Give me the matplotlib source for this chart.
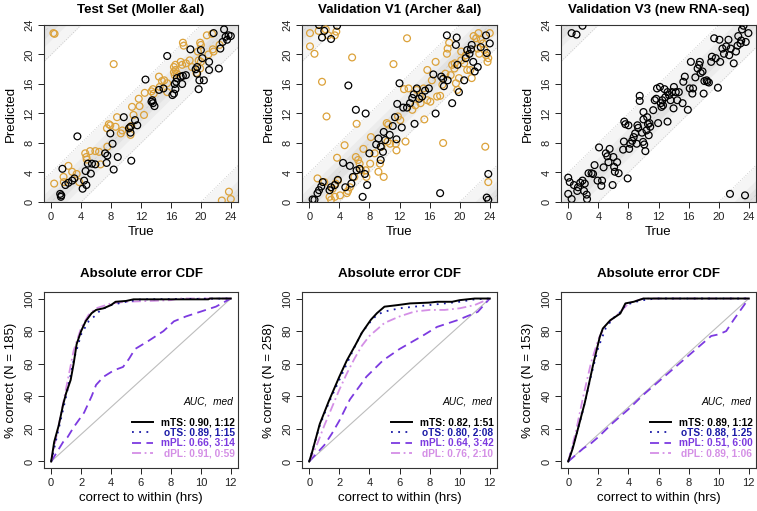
import matplotlib
matplotlib.use("Agg")
import matplotlib.pyplot as plt
import numpy as np

plt.rcParams['font.family'] = ['Liberation Sans', 'DejaVu Sans']

# ---- top row: predicted vs true time (hours) ----
titles_top = ["Test Set (Moller &al)", "Validation V1 (Archer &al)", "Validation V3 (new RNA-seq)"]

moller_true_k = [1.3, 1.35, 1.2, 1.5, 1.9, 2.3, 2.8, 3.1, 3.5, 4.2, 4.4, 4.6, 4.7, 4.9, 5.3, 5.45, 5.9,
                 7.2, 7.4, 7.5, 7.9, 8.2, 8.35, 8.9, 9.7, 10.6, 10.6, 10.7, 11.2, 11.5, 12.6, 13.5, 13.6,
                 13.8, 14.4, 15.0, 15.5, 16.2, 16.4, 16.6, 16.7, 16.8, 17.3, 17.5, 18.0, 18.6, 19.5, 19.5,
                 19.7, 19.8, 20.0, 20.2, 20.4, 21.1, 21.1, 21.7, 22.4, 22.6, 22.9, 23.1, 23.3, 23.7, 24.0,
                 23.5, 10.4, 13.4, 16.5, 17.6, 19.3]
moller_pred_k = [0.7, 0.9, 1.1, 4.5, 2.3, 2.6, 2.9, 3.2, 8.9, 1.8, 2.9, 4.2, 2.3, 5.2, 3.85, 5.2, 5.1,
                 6.6, 5.3, 6.3, 9.3, 7.9, 4.4, 6.1, 11.5, 10.2, 9.4, 5.6, 11.1, 10.4, 16.6, 13.8, 13.4,
                 13.0, 15.2, 15.4, 19.8, 14.5, 14.7, 15.3, 16.3, 16.8, 17.0, 16.0, 17.2, 20.7, 18.3, 17.4,
                 15.3, 16.5, 20.6, 19.5, 16.5, 17.9, 19.0, 22.9, 18.1, 20.8, 21.7, 23.4, 22.4, 22.6, 22.5,
                 22.0, 10.0, 13.6, 16.0, 17.1, 18.0]
moller_true_o = [0.3, 0.45, 8.35, 17.6, 17.7, 19.9, 20.0, 20.8, 21.5, 21.6, 21.7, 22.5, 22.8, 23.75, 24.0,
                 0.4, 2.3, 1.65, 1.7, 2.8, 3.4, 3.75, 4.55, 4.7, 4.75, 5.2, 5.9, 6.4, 6.6, 7.5, 7.45, 7.7,
                 7.9, 8.6, 8.8, 9.3, 9.5, 10.6, 10.7, 10.8, 11.0, 11.8, 11.7, 12.4, 12.5, 13.6, 13.7, 14.4,
                 14.5, 14.8, 15.1, 15.5, 15.5, 16.4, 16.6, 16.5, 16.8, 17.3, 17.5, 18.0, 18.5, 18.8, 19.7,
                 19.9, 20.0, 10.5, 13.4, 16.4, 16.6, 19.4, 19.6, 21.0]
moller_pred_o = [22.9, 22.8, 18.7, 21.6, 21.2, 21.6, 21.3, 22.6, 22.8, 20.7, 20.4, 21.3, 0.2, 1.4, 0.4,
                 2.5, 4.9, 3.4, 2.7, 4.1, 3.8, 2.7, 6.6, 6.1, 5.75, 6.9, 6.9, 6.8, 5.1, 7.5, 10.0, 10.55,
                 10.4, 10.2, 11.5, 9.3, 9.7, 9.1, 10.3, 12.9, 11.8, 13.0, 14.0, 11.8, 14.8, 15.3, 14.7, 17.0,
                 15.6, 16.4, 16.5, 16.1, 14.9, 18.3, 17.9, 17.2, 17.4, 19.0, 18.6, 18.8, 19.2, 18.3, 19.2,
                 18.1, 19.0, 10.1, 15.0, 17.6, 18.6, 17.5, 20.4, 20.0]

archer_true_k = [1.7, 2.0, 2.9, 3.7, 1.3, 5.2, 6.2, 7.5, 7.1, 0.45, 0.7, 1.1, 1.3, 1.6, 1.8, 2.7, 2.9,
                 3.4, 3.8, 4.5, 4.8, 5.4, 5.6, 5.8, 6.3, 6.7, 7.4, 7.7, 8.0, 8.9, 9.2, 9.5, 9.5, 9.8, 9.9,
                 10.1, 10.7, 11.1, 11.4, 11.7, 12.0, 12.3, 11.6, 12.5, 13.0, 13.4, 13.7, 13.9, 14.0, 14.3,
                 14.6, 15.0, 15.4, 15.9, 16.5, 16.8, 17.4, 17.55, 17.8, 17.9, 18.3, 18.4, 19.0, 19.5, 19.6,
                 19.7, 19.9, 20.6, 20.8, 21.0, 21.3, 21.5, 21.6, 21.8, 22.0, 22.4, 22.8, 23.5, 23.6, 24.0,
                 23.8, 23.6, 23.8]
archer_pred_k = [22.3, 23.2, 22.1, 23.9, 24.0, 15.8, 12.5, 12.0, 0.7, 0.35, 0.3, 1.2, 1.6, 2.1, 2.7, 1.6,
                 2.0, 2.3, 3.0, 5.3, 2.0, 4.9, 2.5, 3.4, 4.3, 4.5, 3.8, 2.3, 6.6, 7.8, 8.6, 7.5, 5.7, 6.8,
                 9.5, 8.4, 9.1, 10.3, 11.5, 13.3, 16.1, 10.1, 8.5, 12.8, 12.8, 13.4, 14.1, 14.6, 10.6, 15.4,
                 14.0, 14.3, 15.1, 15.4, 17.3, 12.0, 1.2, 17.0, 16.7, 15.7, 22.6, 16.5, 13.4, 21.3, 22.3,
                 18.6, 14.9, 16.5, 19.5, 20.6, 20.1, 20.7, 21.3, 19.0, 17.7, 18.3, 21.0, 22.6, 20.2, 21.5,
                 3.8, 0.6, 0.3]
archer_true_o = [0.1, 0.1, 0.7, 1.25, 2.2, 2.5, 3.4, 3.6, 1.7, 2.3, 5.7, 6.3, 4.7, 3.7, 11.2, 13.0, 17.8,
                 23.4, 23.8, 23.7, 1.1, 2.0, 2.7, 2.9, 3.1, 3.4, 3.5, 3.8, 4.1, 5.0, 5.15, 5.4, 6.0, 6.2,
                 6.5, 6.7, 6.9, 7.2, 7.5, 7.6, 8.1, 8.2, 8.7, 9.2, 9.4, 9.6, 9.9, 10.3, 10.4, 10.5, 10.75,
                 11.5, 11.6, 11.8, 12.1, 12.8, 12.6, 13.2, 13.7, 14.1, 14.3, 14.7, 14.8, 15.2, 15.3, 15.7,
                 15.7, 16.1, 16.3, 16.8, 17.0, 17.4, 17.7, 18.1, 18.3, 18.4, 18.6, 18.8, 19.0, 19.3, 19.35,
                 19.5, 19.7, 19.9, 20.2, 20.2, 20.6, 20.8, 21.0, 21.4, 21.6, 21.85, 22.2, 22.4, 22.6, 22.8,
                 23.1, 23.3, 23.5, 23.8, 24.0, 22.5]
archer_pred_o = [22.9, 21.1, 20.1, 23.2, 23.4, 22.6, 22.6, 23.1, 16.3, 11.6, 19.6, 10.6, 7.7, 6.0, 18.7,
                 22.2, 8.0, 7.5, 2.7, 19.0, 3.2, 2.7, 0.7, 0.3, 1.8, 0.7, 2.5, 2.9, 0.9, 1.2, 1.5, 2.0, 3.4,
                 6.1, 5.7, 5.2, 4.3, 7.2, 4.3, 3.4, 5.2, 8.8, 6.6, 4.1, 5.2, 7.5, 3.4, 10.7, 8.2, 10.5, 7.9,
                 7.9, 7.0, 11.6, 11.1, 8.2, 15.3, 15.4, 12.5, 13.1, 15.2, 14.3, 13.4, 15.4, 11.2, 17.9,
                 13.8, 13.6, 16.5, 19.0, 14.3, 14.4, 15.9, 17.4, 20.1, 20.8, 21.6, 17.2, 18.6, 18.1, 18.8,
                 16.1, 15.2, 16.8, 19.2, 20.4, 18.8, 19.9, 17.9, 17.9, 16.8, 22.5, 22.2, 20.8, 20.1, 22.0,
                 21.5, 20.6, 19.9, 19.5, 22.9, 22.9]

rnaseq_true = [0.45, 1.1, 1.9, 0.0, 0.2, 0.0, 0.45, 0.75, 1.2, 1.3, 1.6, 1.9, 2.1, 2.2, 2.45, 2.5, 2.7,
               3.1, 3.3, 3.5, 3.9, 4.1, 4.4, 4.5, 4.7, 5.0, 5.2, 5.35, 5.5, 5.9, 6.0, 6.1, 6.2, 6.5, 6.7,
               7.3, 7.4, 7.45, 7.6, 7.9, 8.0, 8.1, 8.25, 8.5, 8.7, 8.9, 9.1, 9.2, 9.3, 9.5, 9.5, 9.8, 9.95,
               10.0, 10.0, 10.1, 10.25, 10.4, 10.5, 10.6, 10.7, 10.8, 10.9, 11.3, 11.5, 11.7, 11.8, 11.95,
               12.2, 12.3, 12.4, 12.5, 12.6, 12.8, 12.9, 13.2, 13.2, 13.4, 13.6, 13.8, 14.0, 14.05, 14.3,
               14.5, 14.7, 15.2, 15.3, 15.5, 15.9, 16.15, 16.3, 16.5, 16.6, 16.9, 17.2, 17.4, 17.5, 17.6,
               17.85, 18.0, 18.1, 18.4, 18.5, 18.7, 19.0, 19.1, 19.4, 19.6, 19.9, 20.1, 20.2, 20.5, 20.7,
               21.0, 21.3, 21.4, 21.6, 22.0, 22.3, 22.5, 22.6, 22.9, 23.0, 23.1, 23.3, 23.6, 23.95, 21.5,
               23.5]
rnaseq_pred = [22.9, 22.7, 23.9, 3.3, 2.7, 1.1, 0.4, 2.3, 1.5, 2.0, 2.6, 2.9, 1.5, 2.5, 1.0, 0.4, 3.9,
               3.9, 3.8, 5.0, 2.9, 7.4, 2.2, 2.9, 4.7, 6.6, 6.2, 5.4, 7.2, 2.3, 6.1, 4.75, 4.1, 5.4, 3.9,
               7.1, 8.2, 10.9, 10.55, 3.2, 10.4, 7.2, 7.9, 8.3, 8.8, 9.3, 7.9, 10.4, 10.05, 14.4, 13.7, 9.4,
               8.15, 12.2, 11.2, 7.8, 6.9, 9.7, 11.5, 10.55, 9.05, 10.7, 10.2, 12.45, 13.8, 14.0, 15.4,
               10.7, 15.6, 13.4, 12.9, 13.8, 13.1, 15.3, 14.2, 14.9, 10.9, 14.5, 13.8, 14.9, 12.7, 15.6,
               14.9, 13.8, 14.9, 13.4, 16.3, 17.0, 12.5, 15.4, 19.0, 14.7, 15.4, 16.9, 18.1, 18.6, 19.0,
               17.5, 17.7, 14.7, 16.4, 16.5, 16.3, 16.2, 19.0, 19.7, 22.2, 19.5, 15.5, 22.0, 19.0, 20.8,
               20.1, 21.1, 22.0, 19.9, 20.8, 18.8, 20.4, 21.2, 22.5, 21.5, 21.9, 23.4, 23.9, 21.7, 22.9,
               1.1, 0.9]

# ---- bottom row: absolute error CDF ----
cdf_ylabels = ["% correct (N = 185)", "% correct (N = 258)", "% correct (N = 153)"]
legend_test = ["mTS: 0.90, 1:12", "oTS: 0.89, 1:15", "mPL: 0.66, 3:14", "dPL: 0.91, 0:59"]
legend_v1 = ["mTS: 0.82, 1:51", "oTS: 0.80, 2:08", "mPL: 0.64, 3:42", "dPL: 0.76, 2:10"]
legend_v3 = ["mTS: 0.89, 1:12", "oTS: 0.88, 1:25", "mPL: 0.51, 6:00", "dPL: 0.89, 1:06"]

test_mts_x = [0, 0.2, 0.5, 0.8, 1.0, 1.3, 1.5, 1.7, 2.0, 2.3, 2.7, 3.0, 3.5, 4.0, 4.3, 5.0, 5.5, 10.5, 10.6, 12]
test_mts_y = [0, 12, 22, 35, 42, 50, 60, 72, 80, 86, 91, 93, 94, 96, 98, 98.5, 99.5, 99.5, 100, 100]
test_ots_x = [0, 0.5, 1.0, 1.5, 2.0, 2.5, 3.0, 3.3, 4.0, 5.0, 6.0, 12]
test_ots_y = [0, 20, 40, 62, 78, 86, 90, 93, 96, 98, 99.5, 100]
test_mpl_x = [0, 0.2, 0.8, 1.1, 1.5, 2.2, 2.7, 3.0, 3.5, 4.2, 4.8, 5.2, 5.6, 6.5, 7.5, 8.2, 9.0, 10.0, 11.0, 12]
test_mpl_y = [0, 3, 12, 15, 21, 30, 40, 47, 52, 56, 58, 63, 69, 74, 80, 86, 89, 92, 95, 100]
test_dpl_x = [0, 0.5, 1.0, 1.5, 2.0, 2.5, 3.0, 4.0, 5.0, 8.0, 8.5, 12]
test_dpl_y = [0, 22, 45, 68, 82, 90, 94, 97, 98, 99, 100, 100]

v1_mts_x = [0, 0.2, 0.7, 1.3, 2.0, 2.5, 3.1, 3.5, 4.1, 4.5, 5.0, 5.9, 6.7, 8.0, 8.5, 9.5, 10.0, 11.0, 12]
v1_mts_y = [0, 6, 23, 37, 52, 62, 72, 79, 87, 91, 95, 96, 97, 97.5, 98, 98, 99, 100, 100]
v1_ots_x = [0, 0.7, 1.3, 2.0, 2.5, 3.0, 3.5, 4.0, 4.5, 5.0, 6.0, 7.0, 8.0, 9.0, 10.0, 11.0, 12]
v1_ots_y = [0, 22, 36, 50, 60, 70, 79, 85, 90, 92, 94, 95, 96, 97, 98, 99.5, 100]
v1_mpl_x = [0, 0.5, 1.0, 1.5, 2.0, 2.7, 3.8, 4.9, 6.0, 7.6, 8.5, 9.85, 11.2, 12]
v1_mpl_y = [0, 5, 10, 17, 25, 38, 52, 62, 69, 77.5, 82.6, 86.7, 91.8, 100]
v1_dpl_x = [0, 0.5, 1.0, 1.5, 2.0, 2.5, 3.0, 3.5, 4.0, 4.5, 5.0, 6.0, 7.0, 8.0, 9.0, 10.0, 11.0, 12]
v1_dpl_y = [0, 10, 22, 33, 44, 54, 63, 71, 77, 81, 85, 89, 92, 93, 93, 94, 96, 100]

v3_mts_x = [0, 0.3, 0.56, 1.1, 1.34, 1.67, 2.1, 2.3, 2.8, 3.46, 3.8, 4.35, 5.0, 12]
v3_mts_y = [0, 8, 17, 36, 46, 60, 76.5, 81.6, 86.7, 90.8, 97, 98, 100, 100]
v3_ots_x = [0, 0.5, 1.0, 1.5, 2.0, 2.5, 3.0, 3.5, 3.8, 4.5, 5.0, 5.8, 12]
v3_ots_y = [0, 15, 32, 52, 70, 82, 88, 92, 96, 98, 99, 100, 100]
v3_mpl_x = [0, 0.5, 1.0, 1.5, 2.0, 3.0, 4.0, 5.0, 6.0, 7.0, 8.0, 9.0, 9.5, 10.0, 10.5, 11.0, 12]
v3_mpl_y = [0, 4, 8, 11, 15, 24, 32, 41, 49, 57, 65, 73, 77, 78, 80, 87, 100]
v3_dpl_x = [0, 0.5, 1.0, 1.5, 2.0, 2.5, 3.0, 3.5, 4.0, 5.0, 12]
v3_dpl_y = [0, 18, 40, 60, 75, 84, 88, 92, 97, 100, 100]

W, H = 757, 511
fig = plt.figure(figsize=(W / 100, H / 100), dpi=100)

ORANGE = '#dca23a'
COLS = ['black', '#1a1aa6', '#7c3ae0', '#d48fe6']
STYLES = ['-', (0, (1, 3)), (0, (5, 3)), (0, (5, 2, 1, 2))]


def px_axes(left, top, right, bottom):
    return fig.add_axes([left / W, 1 - bottom / H, (right - left) / W, (bottom - top) / H])


def style(ax):
    for sp in ax.spines.values():
        sp.set_linewidth(0.8)
        sp.set_color('#333333')
    ax.tick_params(direction='out', length=4, width=0.7, labelsize=8, pad=3, colors='#222222')
    plt.setp(ax.get_yticklabels(), rotation=90, va='center')


def bands(ax):
    xs = np.array([-3.0, 28.0])
    for w, c in [(4, '#f5f5f5'), (2, '#ececec'), (1, '#e2e2e2')]:
        for s in (-24, 0, 24):
            ax.fill_between(xs, xs + s - w, xs + s + w, color=c, lw=0, zorder=0)
    for s in (-24, 0, 24):
        for w in (-4, 4):
            ax.plot(xs, xs + s + w, color='#c0c0c0', ls=(0, (1, 2)), lw=0.6, zorder=1)
        ax.plot(xs, xs + s, color='#d0d0d0', ls=(0, (4, 3)), lw=0.5, zorder=1)


top_lefts = [(44, 238), (302, 497), (561, 756)]
scatter_sets = [
    [(moller_true_o, moller_pred_o, ORANGE), (moller_true_k, moller_pred_k, 'black')],
    [(archer_true_o, archer_pred_o, ORANGE), (archer_true_k, archer_pred_k, 'black')],
    [(rnaseq_true, rnaseq_pred, 'black')],
]

for (l, r), title, sets in zip(top_lefts, titles_top, scatter_sets):
    ax = px_axes(l, 25, r, 202)
    bands(ax)
    for tx, py, c in sets:
        ax.scatter(tx, py, s=24, facecolors='none', edgecolors=c, linewidths=0.9, zorder=3)
    ax.set_xlim(-0.96, 24.96)
    ax.set_ylim(0, 24)
    ax.set_xticks(range(0, 25, 4))
    ax.set_yticks(range(0, 25, 4))
    ax.set_title(title, fontsize=9.6, fontweight='bold', pad=9)
    ax.set_xlabel("True", fontsize=9.5, labelpad=3)
    ax.set_ylabel("Predicted", fontsize=9.5, labelpad=5)
    style(ax)

cdf_sets = [
    [(test_mts_x, test_mts_y), (test_ots_x, test_ots_y), (test_mpl_x, test_mpl_y), (test_dpl_x, test_dpl_y)],
    [(v1_mts_x, v1_mts_y), (v1_ots_x, v1_ots_y), (v1_mpl_x, v1_mpl_y), (v1_dpl_x, v1_dpl_y)],
    [(v3_mts_x, v3_mts_y), (v3_ots_x, v3_ots_y), (v3_mpl_x, v3_mpl_y), (v3_dpl_x, v3_dpl_y)],
]
legends = [legend_test, legend_v1, legend_v3]

for (l, r), ylab, curves, leg in zip(top_lefts, cdf_ylabels, cdf_sets, legends):
    ax = px_axes(l, 292, r, 468)
    ax.plot([0, 12], [0, 100], color='#bdbdbd', lw=0.8, zorder=1)
    # draw lighter curves first so the black one sits on top
    for i in [2, 3, 1, 0]:
        cx, cy = curves[i]
        ax.plot(cx, cy, color=COLS[i], ls=STYLES[i], lw=1.4 if i == 0 else 1.3, zorder=2 + (i == 0))
    ax.set_xlim(-0.48, 12.48)
    ax.set_ylim(-4, 104)
    ax.set_xticks(range(0, 13, 2))
    ax.set_yticks(range(0, 101, 20))
    ax.set_title("Absolute error CDF", fontsize=9.6, fontweight='bold', pad=11)
    ax.set_xlabel("correct to within (hrs)", fontsize=9.5, labelpad=3)
    ax.set_ylabel(ylab, fontsize=9.5, labelpad=5)
    # hand-made legend in the lower right corner
    ax.text(0.975, 0.379, "AUC,  med", transform=ax.transAxes, ha='right', va='center',
            fontsize=7.3, style='italic')
    rows = [0.259, 0.202, 0.144, 0.085]
    for i, (yy, lab) in enumerate(zip(rows, leg)):
        ax.plot([0.455, 0.562], [yy, yy], transform=ax.transAxes, color=COLS[i], ls=STYLES[i],
                lw=1.4 if i == 0 else 1.3)
        ax.text(0.982, yy, lab, transform=ax.transAxes, ha='right', va='center',
                fontsize=7.3, fontweight='bold', color=COLS[i])
    style(ax)

fig.savefig("out.png", dpi=100)
